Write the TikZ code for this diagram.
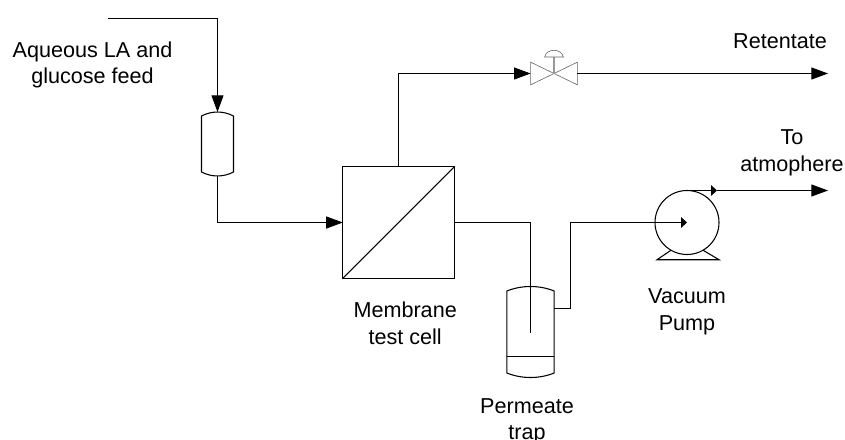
\documentclass[tikz,border=0pt]{standalone}
\usepackage{fontspec}
\setmainfont{Liberation Sans}
\usepackage{xcolor}
\usetikzlibrary{positioning, arrows.meta}

\tikzset{
    pipe/.style={line width=0.8pt, black},
    flow/.style={pipe, -{Triangle[length=12.5pt, width=9pt]}},
    smallflow/.style={pipe, -{Triangle[length=4.5pt, width=8pt]}},
    vesselbox/.style={minimum height=#1, inner sep=0pt},
    caption/.style={font=\fontsize{16.2}{20}\selectfont, align=center, inner sep=0pt},
}

% vessel outline: node name, shoulder drop, control offsets
\newcommand{\drawvessel}[4]{
    \draw[pipe] ([yshift=-#2]#1.north west) .. controls +(#3,-#4) and +(-#3,-#4) .. ([yshift=-#2]#1.north east)
        -- ([yshift=#2]#1.south east) .. controls +(-#3,#4) and +(#3,#4) .. ([yshift=#2]#1.south west) -- cycle;
}

\begin{document}
\begin{tikzpicture}[x=0.75pt,y=-0.75pt,node distance=0cm,outer sep=0pt]
    \useasboundingbox (0,0) rectangle (845,439);

    % Feed
    \coordinate (feedstart) at (108,18.5);
    \node[caption] (feedlabel) at (92.5,65) {Aqueous LA and\\glucose feed};
    \node[vesselbox=48pt, minimum width=24pt] (feedvessel) at (217.5,144) {};
    \drawvessel{feedvessel}{3pt}{10}{5.3}

    % Membrane
    \node[draw, pipe, minimum width=83.5pt, minimum height=83.5pt] (membrane) at (398.5,222.5) {};
    \draw[pipe] (membrane.south west) -- (membrane.north east);
    \node[caption, below=of membrane, xshift=5pt, yshift=-18pt] (membranelabel) {Membrane\\test cell};

    % Valve
    \node[minimum width=35pt, minimum height=17pt, inner sep=0pt] (valve) at (554,73.5) {};
    \draw[black!60, line width=0.45pt] (valve.north west) -- (valve.south east) -- (valve.north east) -- (valve.south west) -- cycle;
    \coordinate (valvetop) at (554,57);
    \draw[black!40, line width=1pt] (valve.center) -- (valvetop);
    \draw[black!60, line width=0.45pt] ([xshift=-7pt]valvetop) .. controls +(2,-9) and +(-2,-9) .. ([xshift=7pt]valvetop) -- cycle;

    % Trap
    \node[vesselbox=70.5pt, minimum width=35.5pt] (trap) at (530.5,332) {};
    \drawvessel{trap}{4.5pt}{15}{6}
    \draw[pipe] ([yshift=16.9pt]trap.south west) -- ([yshift=16.9pt]trap.south east);
    \coordinate (dipend) at (530.5,333);
    \coordinate (trapout) at (554,308.5);
    \node[caption, below=of trap, xshift=-2.6pt, yshift=-14.5pt] (traplabel) {Permeate\\trap};

    % Pump
    \node[draw, pipe, circle, minimum size=48pt, inner sep=0pt] (pump) at (687,222.5) {};
    \draw[pipe] (pump.240) -- ++(-14,9.5) -- ++(62,0) -- (pump.300);
    \node[caption, below=of pump, yshift=-25.5pt] (pumplabel) {Vacuum\\Pump};
    \coordinate (pumpmark) at (717,190.5);

    % Outlets
    \coordinate (retentate) at (828,73.5);
    \coordinate (atmosphere) at (828,190.5);
    \node[caption] (retentatelabel) at (780,41.5) {Retentate};
    \node[caption] (atmolabel) at (792,153) {To\\atmophere};

    % Connections
    \draw[flow] (feedstart) -| (feedvessel.north);
    \draw[flow] (feedvessel.south) |- (membrane.west);
    \draw[flow] (membrane.north) |- (valve.west);
    \draw[flow] (valve.east) -- (retentate);
    \draw[pipe] (membrane.east) -| (dipend);
    \draw[smallflow] (trapout) -- ++(16.5,0) |- (pump.center);
    \draw[smallflow] (pump.north) -- (pumpmark);
    \draw[flow] (pumpmark) -- (atmosphere);
\end{tikzpicture}
\end{document}
